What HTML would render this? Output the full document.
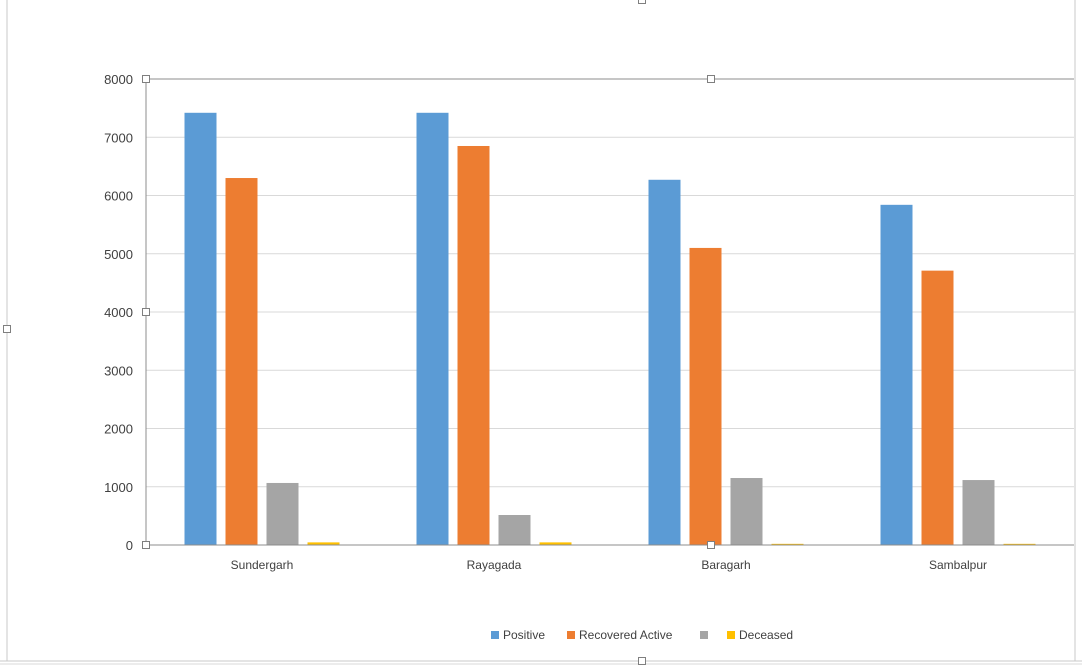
<!DOCTYPE html>
<html><head><meta charset="utf-8"><style>
body{margin:0;background:#fff;}
svg{display:block;font-family:"Liberation Sans",sans-serif;}
</style></head><body>
<svg width="1082" height="671">
<rect x="0" y="0" width="1082" height="671" fill="#fff"/>
<line x1="7" y1="0" x2="7" y2="661" stroke="#c8c8c8"/>
<line x1="1075" y1="0" x2="1075" y2="661" stroke="#c8c8c8"/>
<line x1="0" y1="661" x2="1082" y2="661" stroke="#c8c8c8"/>
<line x1="0" y1="664" x2="1082" y2="664" stroke="#dadada"/>
<g id="grid"></g>
<g id="bars"></g>
<g id="labels"></g>
<line x1="146" y1="79" x2="1074" y2="79" stroke="#8c8c8c"/>
<line x1="146" y1="79" x2="146" y2="545" stroke="#8c8c8c"/>
<line x1="146" y1="545" x2="1074" y2="545" stroke="#8c8c8c"/>
<g fill="#fff" stroke="#7f7f7f">
<rect x="142.5" y="75.5" width="7" height="7"/>
<rect x="707.5" y="75.5" width="7" height="7"/>
<rect x="142.5" y="308.5" width="7" height="7"/>
<rect x="142.5" y="541.5" width="7" height="7"/>
<rect x="707.5" y="541.5" width="7" height="7"/>
<rect x="638.5" y="-3.5" width="7" height="7"/>
<rect x="638.5" y="657.5" width="7" height="7"/>
<rect x="3.5" y="325.5" width="7" height="7"/>
</g>
<g id="legend" font-size="12" fill="#404040">
<rect x="491" y="631" width="8" height="8" fill="#5b9bd5"/><text x="503" y="639">Positive</text>
<rect x="567" y="631" width="8" height="8" fill="#ed7d31"/><text x="579" y="639">Recovered Active</text>
<rect x="700" y="631" width="8" height="8" fill="#a5a5a5"/>
<rect x="727" y="631" width="8" height="8" fill="#ffc000"/><text x="739" y="639">Deceased</text>
</g>
</svg>
<script>
const categories=["Sundergarh","Rayagada","Baragarh","Sambalpur"];
const positive=[7420,7420,6270,5840];
const recovered=[6300,6850,5100,4710];
const active=[1065,515,1150,1115];
const deceased=[45,45,20,20];
const yTicks=[0,1000,2000,3000,4000,5000,6000,7000,8000];
const series=[positive,recovered,active,deceased];
const colors=["#5b9bd5","#ed7d31","#a5a5a5","#ffc000"];
const names=["positive","recovered","active","deceased"];
const x0=146,x1=1074,y0=545,yTop=79,yMax=8000;
const ys=v=>y0-(v/yMax)*(y0-yTop);
const bandW=(x1-x0)/categories.length;
const NS="http://www.w3.org/2000/svg";
const grid=document.getElementById("grid"),bars=document.getElementById("bars"),labels=document.getElementById("labels");
yTicks.forEach(t=>{
 const y=ys(t);
 if(t>0){const l=document.createElementNS(NS,"line");
 l.setAttribute("x1",x0);l.setAttribute("x2",x1);l.setAttribute("y1",y);l.setAttribute("y2",y);l.setAttribute("stroke","#d9d9d9");
 
 
 grid.appendChild(l);}
 const tx=document.createElementNS(NS,"text");
 tx.setAttribute("x",133);tx.setAttribute("y",y+5);tx.setAttribute("text-anchor","end");tx.setAttribute("font-size","13");tx.setAttribute("fill","#404040");
 tx.textContent=t;
 
 
 labels.appendChild(tx);
});
const bw=32,gap=9;
categories.forEach((c,i)=>{
 const cx=x0+bandW*(i+0.5);
 const start=cx-(4*bw+3*gap)/2;
 series.forEach((s,j)=>{
  const r=document.createElementNS(NS,"rect");
  const y=ys(s[i]);
  r.setAttribute("x",start+j*(bw+gap));r.setAttribute("y",y);r.setAttribute("width",bw);r.setAttribute("height",Math.max(y0-y,1));r.setAttribute("fill",colors[j]);
  
  
  bars.appendChild(r);
 });
 const tx=document.createElementNS(NS,"text");
 tx.setAttribute("x",cx);tx.setAttribute("y",569);tx.setAttribute("text-anchor","middle");tx.setAttribute("font-size","12");tx.setAttribute("fill","#404040");
 tx.textContent=c;
 
 
 labels.appendChild(tx);
});
</script>
</body></html>
